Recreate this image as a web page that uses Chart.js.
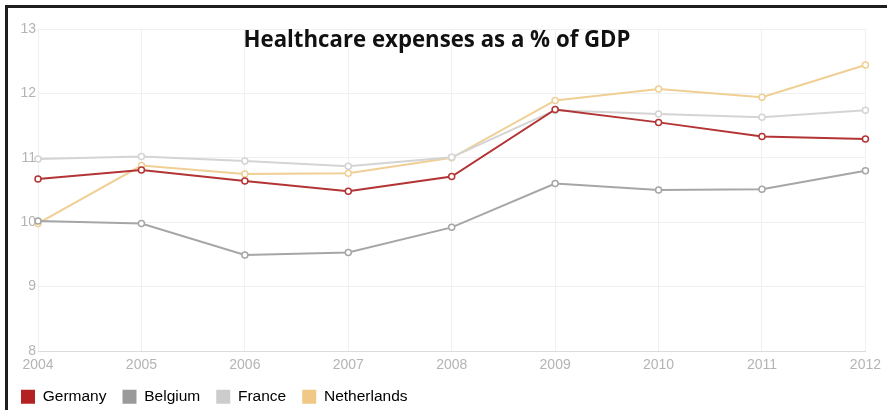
<!DOCTYPE html>
<html>
<head>
<meta charset="utf-8">
<script src="https://cdn.jsdelivr.net/npm/chart.js@4"></script>
<style>
  html, body { margin: 0; padding: 0; background: #fff; }
  #wrap { position: relative; width: 887px; height: 410px; }
  #frame {
    position: absolute; left: 5px; top: 5px; right: 0; bottom: 0;
    border-left: 3px solid #1e1e1e; border-top: 3px solid #1e1e1e;
    pointer-events: none;
  }
</style>
</head>
<body>
<div id="wrap">
  <canvas id="healthChart" width="887" height="410"></canvas>
  <div id="frame"></div>
</div>
<script>
// Healthcare spending, % of GDP
const years = ['2004', '2005', '2006', '2007', '2008', '2009', '2010', '2011', '2012'];
const germany = [10.67, 10.81, 10.64, 10.48, 10.71, 11.75, 11.55, 11.33, 11.29];
const belgium = [10.02, 9.98, 9.49, 9.53, 9.92, 10.6, 10.5, 10.51, 10.8];
const france = [10.98, 11.02, 10.95, 10.87, 11.01, 11.74, 11.68, 11.63, 11.74];
const netherlands = [9.98, 10.88, 10.75, 10.76, 11.0, 11.89, 12.07, 11.94, 12.44];
const yTicks = [8, 9, 10, 11, 12, 13];

const chartTitle = 'Healthcare expenses as a % of GDP';

function series(label, data, line, box) {
    return {
        label: label,
        data: data,
        borderColor: line,
        backgroundColor: box,
        borderWidth: 2,
        pointRadius: 3,
        pointBorderWidth: 1.5,
        pointBackgroundColor: '#fff',
        pointBorderColor: line,
        tension: 0
    };
}

// title sits inside the plot area, over the grid
const titleInside = {
    id: 'titleInside',
    afterDraw(chart) {
        const ctx = chart.ctx;
        ctx.save();
        ctx.font = 'bold 22.3px "Open Sans", Lato, sans-serif';
        ctx.fillStyle = '#111';
        ctx.textAlign = 'center';
        ctx.textBaseline = 'alphabetic';
        ctx.fillText(chartTitle, 437, 47, 387);
        ctx.restore();
    }
};

const healthChart = new Chart(document.getElementById('healthChart'), {
    type: 'line',
    data: {
        labels: years,
        datasets: [
            series('Germany', germany, '#b33434', '#b22222'),
            series('Belgium', belgium, '#a6a6a6', '#9a9a9a'),
            series('France', france, '#d4d4d4', '#cccccc'),
            series('Netherlands', netherlands, '#f0cf94', '#f0c987')
        ]
    },
    options: {
        responsive: false,
        animation: false,
        layout: { padding: { left: 5, top: 29, right: 0, bottom: 0 } },
        scales: {
            x: {
                grid: { color: '#f0f0f0', drawTicks: false },
                border: { color: '#dcdcdc' },
                ticks: {
                    color: '#b4b4b4',
                    font: { family: 'Liberation Sans, Arial', size: 14 },
                    padding: 6,
                    maxRotation: 0
                },
                afterFit: (axis) => { axis.height = 22; }
            },
            y: {
                min: 8,
                max: 13,
                afterBuildTicks: (axis) => { axis.ticks = yTicks.map(v => ({ value: v })); },
                grid: { color: '#f0f0f0', drawTicks: false },
                border: { display: false },
                ticks: {
                    color: '#b4b4b4',
                    font: { family: 'Liberation Sans, Arial', size: 14 },
                    padding: 2
                },
                afterFit: (axis) => { axis.width = 33; }
            }
        },
        plugins: {
            title: { display: false },
            tooltip: { enabled: false },
            legend: {
                position: 'bottom',
                align: 'start',
                maxHeight: 37,
                labels: {
                    boxWidth: 14,
                    boxHeight: 14,
                    padding: 16,
                    color: '#707070',
                    font: { family: 'Liberation Sans, Arial', size: 15.5 },
                    generateLabels: (chart) => chart.data.datasets.map((ds, i) => ({
                        text: ds.label,
                        fillStyle: ds.backgroundColor,
                        strokeStyle: ds.backgroundColor,
                        lineWidth: 0,
                        datasetIndex: i
                    }))
                }
            }
        }
    },
    plugins: [titleInside]
});
</script>
</body>
</html>
